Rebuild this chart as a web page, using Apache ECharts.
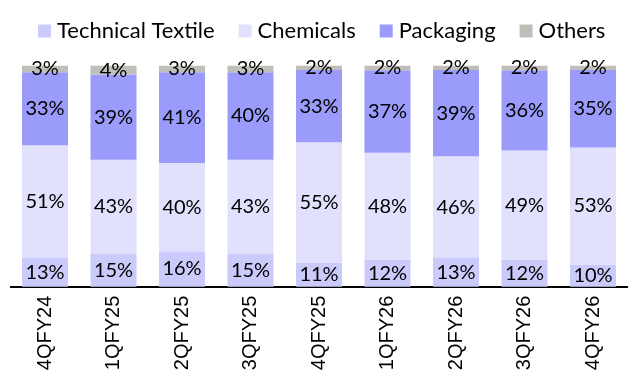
<!DOCTYPE html>
<html>
<head>
<meta charset="utf-8">
<script src="https://cdn.jsdelivr.net/npm/echarts@6/dist/echarts.min.js"></script>
<style>html,body{margin:0;padding:0;background:#fff;}#c{width:635px;height:381px;}</style>
</head>
<body>
<div id="c"></div>
<script>
const categories = ['4QFY24','1QFY25','2QFY25','3QFY25','4QFY25','1QFY26','2QFY26','3QFY26','4QFY26'];
const technicalTextile = [13,15,16,15,11,12,13,12,10];
const chemicals = [51,43,40,43,55,48,46,49,53];
const packaging = [33,39,41,40,33,37,39,36,35];
const others = [3,4,3,3,2,2,2,2,2];
const seriesNames = ['Technical Textile','Chemicals','Packaging','Others'];
const seriesColors = ['#CBCBFB','#E1E1FD','#9B9BFB','#BFBEB9'];

const raw = [technicalTextile, chemicals, packaging, others];
const totals = categories.map((_, i) => raw.reduce((s, arr) => s + arr[i], 0));

const chart = echarts.init(document.getElementById('c'), null, {renderer: 'canvas'});
chart.setOption({
  animation: false,
  legend: {
    top: 15,
    left: 33,
    itemWidth: 13,
    itemHeight: 13,
    itemGap: 24,
    textStyle: {fontFamily: 'Lato', fontSize: 22, color: '#000', padding: [0,0,0,1]},
    data: seriesNames.map((n, k) => ({name: n, icon: 'rect', itemStyle: {color: seriesColors[k]}}))
  },
  grid: {left: 10.75, right: 7.75, top: 65.7, bottom: 94.3, containLabel: false},
  xAxis: {
    type: 'category',
    data: categories,
    axisLine: {lineStyle: {color: '#000', width: 2}},
    axisTick: {show: false},
    axisLabel: {rotate: 90, margin: 9, color: '#000', fontFamily: 'Liberation Sans', fontSize: 20}
  },
  yAxis: {type: 'value', min: 0, max: 100, show: false, splitLine: {show: false}},
  series: raw.map((arr, k) => ({
    name: seriesNames[k],
    type: 'bar',
    stack: 'total',
    barWidth: 46,
    itemStyle: {color: seriesColors[k]},
    label: {
      show: true,
      position: 'inside',
      color: '#000',
      fontFamily: 'Lato',
      fontSize: 20,
      formatter: p => arr[p.dataIndex] + '%'
    },
    data: arr.map((v, i) => v / totals[i] * 100)
  }))
});
</script>
</body>
</html>
